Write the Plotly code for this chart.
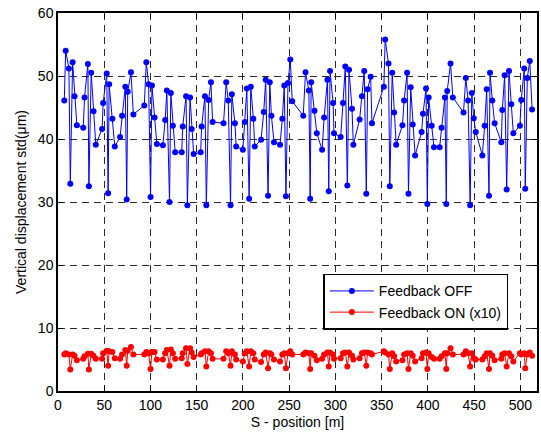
import plotly.graph_objects as go

# BPM positions along the ring [m]
s_pos = [
    6.8, 8.3, 11.8, 13.3, 15.8, 17.9, 20.4, 27.3, 28.7, 32.3, 33.4, 35.9, 38.4, 40.9,
    47.7, 48.8, 52.7, 54.2, 55.3, 58.8, 61.4, 67.1, 69.3, 72.8, 74.3, 75.4, 78.9, 81.5,
    93.3, 95.5, 98.0, 100.1, 101.6, 104.4, 106.9, 113.4, 115.9, 117.7, 120.6, 122.0, 124.2, 126.7,
    133.8, 134.9, 138.5, 139.9, 142.8, 144.6, 146.7, 154.3, 155.3, 158.9, 160.4, 162.9, 165.4, 167.2,
    179.0, 181.9, 184.1, 186.6, 188.0, 191.3, 192.7, 199.9, 202.0, 204.2, 206.7, 208.5, 211.3, 212.8,
    219.6, 222.5, 224.6, 227.2, 229.0, 230.8, 233.6, 240.1, 242.6, 244.7, 246.5, 248.7, 251.2, 253.3,
    265.2, 267.7, 271.3, 272.7, 273.8, 277.4, 279.9, 285.6, 287.8, 291.4, 292.8, 294.2, 297.5, 298.5,
    305.7, 308.2, 310.7, 312.9, 314.7, 317.9, 319.4, 326.2, 328.7, 331.2, 333.4, 334.8, 338.1, 339.5,
    352.4, 353.8, 357.4, 358.8, 361.4, 363.5, 365.7, 372.5, 374.3, 377.5, 379.0, 381.4, 383.6, 386.2,
    393.2, 394.7, 398.0, 399.4, 400.8, 404.1, 406.6, 412.7, 414.8, 418.4, 419.9, 420.9, 424.5, 427.0,
    438.5, 441.0, 443.5, 445.7, 447.5, 449.6, 451.8, 458.9, 461.4, 463.6, 466.1, 467.2, 469.7, 472.2,
    479.4, 480.5, 483.0, 485.2, 487.7, 490.2, 492.4, 499.5, 501.0, 504.2, 505.3, 507.5, 510.2, 512.7,
]

# Vertical orbit std with feedback off [um]
std_off = [
    46.1, 54.0, 51.2, 32.9, 52.2, 46.8, 42.2, 41.8, 46.6, 51.9, 32.5, 50.5, 44.4, 39.1,
    41.6, 45.7, 50.4, 31.4, 48.7, 43.2, 38.8, 40.3, 43.7, 48.3, 30.4, 47.5, 50.6, 43.9,
    45.3, 52.2, 48.7, 30.8, 48.5, 43.4, 39.2, 39.0, 43.0, 47.7, 30.0, 47.3, 42.1, 37.9,
    37.9, 42.0, 46.8, 29.5, 46.6, 41.6, 37.6, 37.9, 42.0, 46.8, 29.5, 46.2, 49.0, 42.7,
    42.5, 49.0, 46.1, 29.5, 47.1, 42.5, 38.8, 38.3, 42.7, 48.0, 30.5, 48.3, 43.2, 38.8,
    39.9, 44.3, 49.4, 31.0, 49.0, 43.7, 39.5, 39.1, 43.2, 48.5, 30.9, 48.9, 52.6, 46.0,
    43.7, 50.6, 47.7, 30.5, 49.0, 44.5, 40.9, 38.3, 43.4, 49.4, 31.7, 50.8, 45.7, 40.9,
    40.3, 45.7, 51.5, 32.6, 51.0, 44.8, 39.1, 43.1, 46.8, 50.8, 31.3, 47.9, 49.9, 42.5,
    48.3, 55.8, 52.0, 32.5, 50.5, 44.2, 39.1, 42.2, 46.1, 50.5, 31.3, 48.2, 42.3, 37.4,
    41.1, 44.0, 48.0, 29.7, 46.6, 42.1, 38.7, 38.7, 41.8, 46.6, 29.7, 47.6, 52.0, 46.6,
    44.2, 49.7, 46.1, 29.5, 47.3, 43.3, 41.1, 37.4, 42.1, 47.9, 31.0, 50.5, 46.1, 42.5,
    39.5, 44.6, 50.1, 32.0, 50.8, 45.5, 40.9, 42.1, 46.2, 51.2, 32.1, 49.7, 52.4, 44.7,
]

# Vertical orbit std with feedback on, scaled by 10 [um]
std_on = [
    5.8, 6.0, 5.8, 3.4, 5.8, 5.6, 4.9, 5.1, 5.5, 5.9, 3.4, 5.9, 5.6, 5.1,
    5.1, 6.0, 6.4, 4.0, 6.3, 6.2, 5.2, 5.1, 5.8, 6.5, 4.0, 6.4, 7.0, 5.8,
    5.8, 6.2, 6.0, 3.5, 6.2, 6.2, 5.0, 5.0, 6.0, 6.5, 4.0, 6.6, 6.0, 5.1,
    5.2, 6.0, 6.8, 4.3, 6.8, 6.1, 5.4, 5.8, 6.0, 6.3, 3.9, 6.3, 6.0, 5.1,
    5.1, 6.3, 6.0, 4.0, 6.3, 5.8, 5.0, 4.7, 6.0, 6.3, 3.9, 6.3, 6.0, 5.0,
    4.6, 5.8, 6.1, 3.6, 6.0, 5.8, 5.0, 4.7, 5.8, 6.0, 3.6, 6.0, 6.3, 5.8,
    5.8, 6.1, 6.0, 3.5, 6.0, 5.6, 4.9, 5.1, 5.8, 6.1, 3.9, 6.1, 5.8, 5.1,
    5.2, 6.0, 6.1, 3.9, 6.1, 5.6, 5.0, 5.2, 6.0, 6.1, 4.0, 6.1, 6.0, 5.8,
    6.3, 6.1, 5.8, 3.5, 6.0, 5.5, 4.7, 4.9, 5.8, 6.0, 3.5, 6.0, 5.6, 4.7,
    5.2, 6.0, 6.1, 3.5, 6.0, 5.4, 5.1, 5.1, 5.5, 6.0, 3.5, 6.0, 6.8, 5.8,
    5.8, 6.3, 6.0, 3.9, 6.0, 5.2, 5.0, 5.0, 5.5, 6.0, 3.5, 6.0, 5.6, 4.9,
    5.1, 5.8, 6.0, 3.9, 6.0, 5.5, 4.7, 6.0, 5.8, 6.0, 3.6, 5.8, 6.1, 5.6,
]

x_ticks = [0, 50, 100, 150, 200, 250, 300, 350, 400, 450, 500]
y_ticks = [0, 10, 20, 30, 40, 50, 60]

font_family = "Liberation Sans, Arial, Helvetica, sans-serif"

fig = go.Figure()
fig.add_trace(go.Scatter(
    x=s_pos, y=std_off, mode="lines+markers", name="Feedback OFF",
    line=dict(color="#0000ff", width=1),
    marker=dict(color="#0000ff", size=6),
))
fig.add_trace(go.Scatter(
    x=s_pos, y=std_on, mode="lines+markers", name="Feedback ON (x10)",
    line=dict(color="#ff0000", width=1),
    marker=dict(color="#ff0000", size=6),
))

axis_common = dict(
    showline=True, linecolor="black", linewidth=1.5, mirror="ticks",
    ticks="inside", ticklen=5, tickwidth=1, tickcolor="black",
    showgrid=True, gridcolor="#2a2a2a", gridwidth=1, griddash="7px,5px",
    zeroline=False,
    tickfont=dict(family=font_family, size=14, color="black"),
)

fig.update_xaxes(
    range=[0, 518], tickvals=x_ticks,
    title=dict(text="S - position [m]", font=dict(family=font_family, size=14, color="black"), standoff=6),
    **axis_common,
)
fig.update_yaxes(
    range=[0, 60], tickvals=y_ticks,
    title=dict(text="Vertical displacement std(μm)", font=dict(family=font_family, size=14, color="black"), standoff=8),
    **axis_common,
)

fig.update_layout(
    width=541, height=433,
    margin=dict(l=58, r=2, t=13, b=42),
    paper_bgcolor="white", plot_bgcolor="white",
    font=dict(family=font_family, size=14, color="black"),
    showlegend=True,
    legend=dict(
        x=0.554, y=0.31, xanchor="left", yanchor="top",
        bgcolor="white", bordercolor="black", borderwidth=1.5,
        itemwidth=44,
        font=dict(family=font_family, size=14, color="black"),
    ),
)

fig.write_html("out.html")
